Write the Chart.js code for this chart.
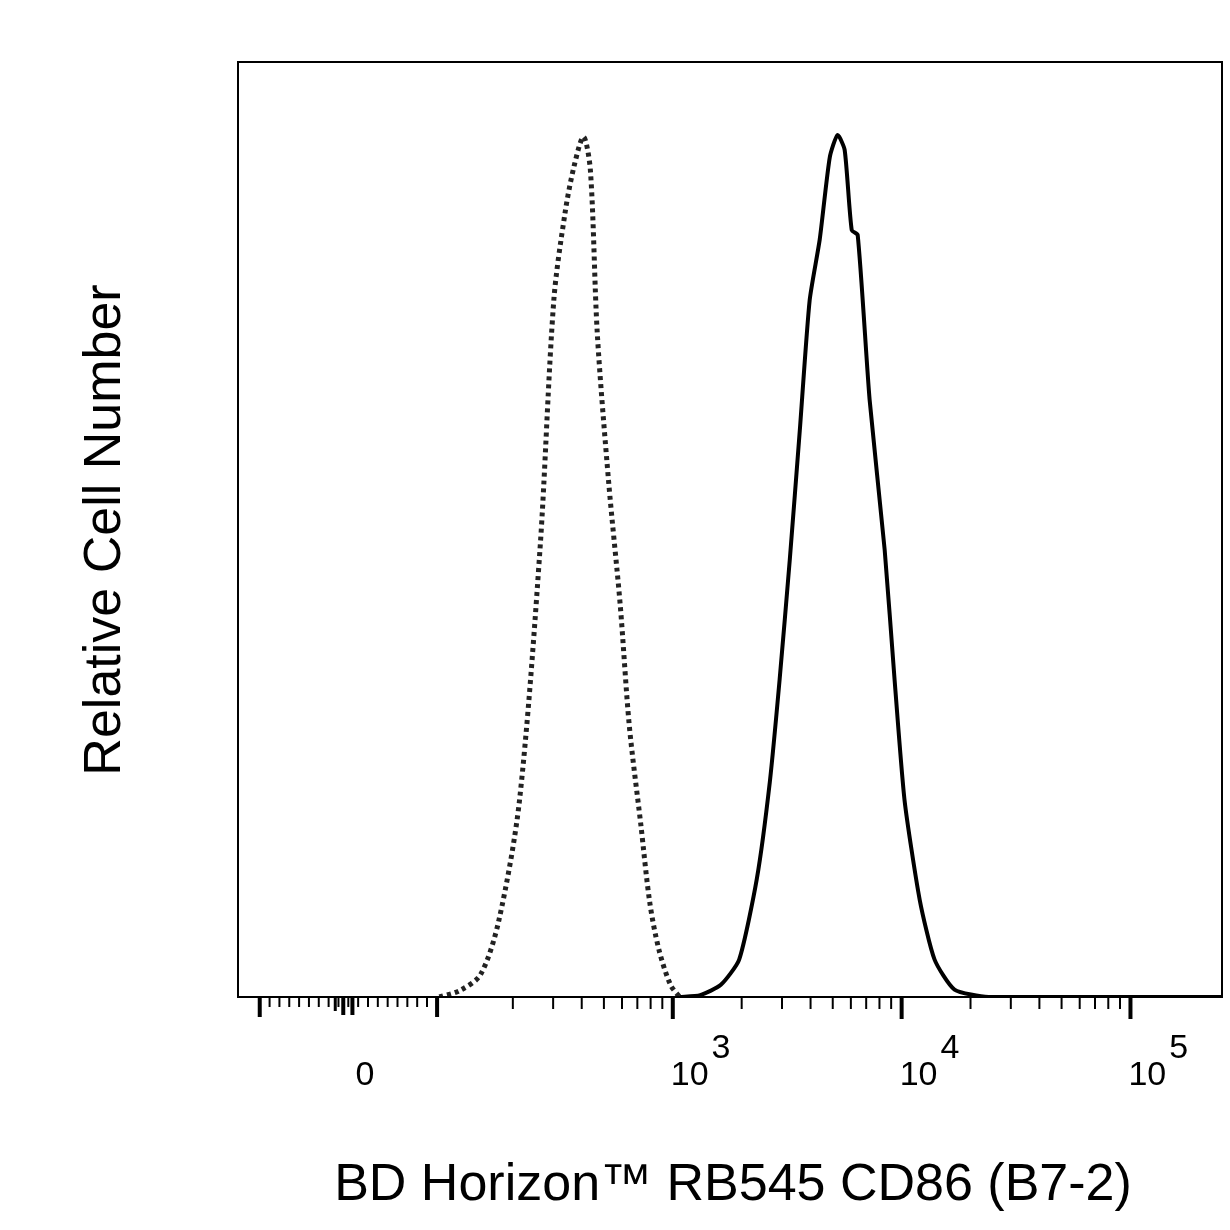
<!DOCTYPE html>
<html><head><meta charset="utf-8">
<script src="https://cdn.jsdelivr.net/npm/chart.js@4"></script>
<style>html,body{margin:0;padding:0;background:#fff}#w{width:1230px;height:1230px}</style>
</head><body><div id="w"><canvas id="c" width="1230" height="1230"></canvas></div>
<script>
// x in "decade units" of a biexponential display (10^3 -> 3)
const isoX = [1.98,2.07,2.16,2.24,2.33,2.42,2.48,2.53,2.57,2.61,2.64,2.67,2.72,2.77,2.81,2.86,2.90,2.94,2.99,3.03];
const isoY = [0,0.7,2.4,8.2,21,48,74.5,84,89,92,88.4,71,55,42,29,18.5,10,5,1.3,0];
const cdX = [3.03,3.12,3.21,3.29,3.367,3.424,3.467,3.511,3.555,3.598,3.642,3.686,3.72,3.751,3.782,3.808,3.86,3.926,3.969,4.013,4.079,4.144,4.231,4.38,5.40];
const cdY = [0,0.2,1.3,4,12.6,23,34,46.7,60.6,74.5,81,89.8,92.2,90.6,82,81.5,63.9,47.8,34,21,10.4,4,0.8,0,0];
const tickPos = [1.655,3,4,5];
const tickBase = ["0","10","10","10"];
const tickExp = ["","3","4","5"];
const xTitle = "BD Horizon™ RB545 CD86 (B7-2)";
const yTitle = "Relative Cell Number";

const deco = {
  id:'deco',
  afterDraw(ch){
    const c=ch.ctx, a=ch.chartArea, xs=ch.scales.x;
    c.save();
    c.strokeStyle='#000'; c.lineWidth=2;
    c.strokeRect(a.left,a.top,a.right-a.left,a.bottom-a.top);
    const tick=(v,len,w)=>{const p=xs.getPixelForValue(v);c.lineWidth=w;c.beginPath();c.moveTo(p,a.bottom);c.lineTo(p,a.bottom+len);c.stroke();};
    for(let v=1.195;v<=1.97;v+=0.043) tick(v,10,2);
    tick(1.195,20,4); tick(1.97,20,4);
    tick(1.56,18,4); tick(1.60,18,4); tick(1.525,14,3);
    for(const d of [2,3,4]) for(let k=2;k<=9;k++){const v=d+Math.log10(k); if(v>2.0) tick(v,12,2);}
    for(const v of tickPos.slice(1)) tick(v,22,4);
    c.fillStyle='#000'; c.textBaseline='alphabetic';
    tickPos.forEach((v,i)=>{
      const p=xs.getPixelForValue(v);
      c.font='34px Arial, "Liberation Sans"';
      if(!tickExp[i]){c.textAlign='center';c.fillText(tickBase[i],p,1085);return;}
      c.textAlign='left';
      const bw=c.measureText(tickBase[i]).width;
      c.fillText(tickBase[i],p-2,1085);
      c.fillText(tickExp[i],p+bw+1,1058);
    });
    c.font='52px Arial, "Liberation Sans"'; c.textAlign='center';
    c.fillText(xTitle,733,1200);
    c.translate(120,530); c.rotate(-Math.PI/2); c.fillText(yTitle,0,0);
    c.restore();
  }
};
new Chart(document.getElementById('c'),{
  type:'line',
  data:{datasets:[
    {data:isoX.map((x,i)=>({x,y:isoY[i]})),borderColor:'#222',borderWidth:5,borderDash:[4,4],pointRadius:0,tension:0.3},
    {data:cdX.map((x,i)=>({x,y:cdY[i]})),borderColor:'#000',borderWidth:4,pointRadius:0,tension:0.2}
  ]},
  options:{responsive:false,animation:false,
    layout:{padding:{left:238,right:8,top:62,bottom:233}},
    plugins:{legend:{display:false},tooltip:{enabled:false}},
    scales:{x:{type:'linear',min:1.1,max:5.4,display:false},y:{min:0,max:100,display:false}}},
  plugins:[deco]
});
</script></body></html>
